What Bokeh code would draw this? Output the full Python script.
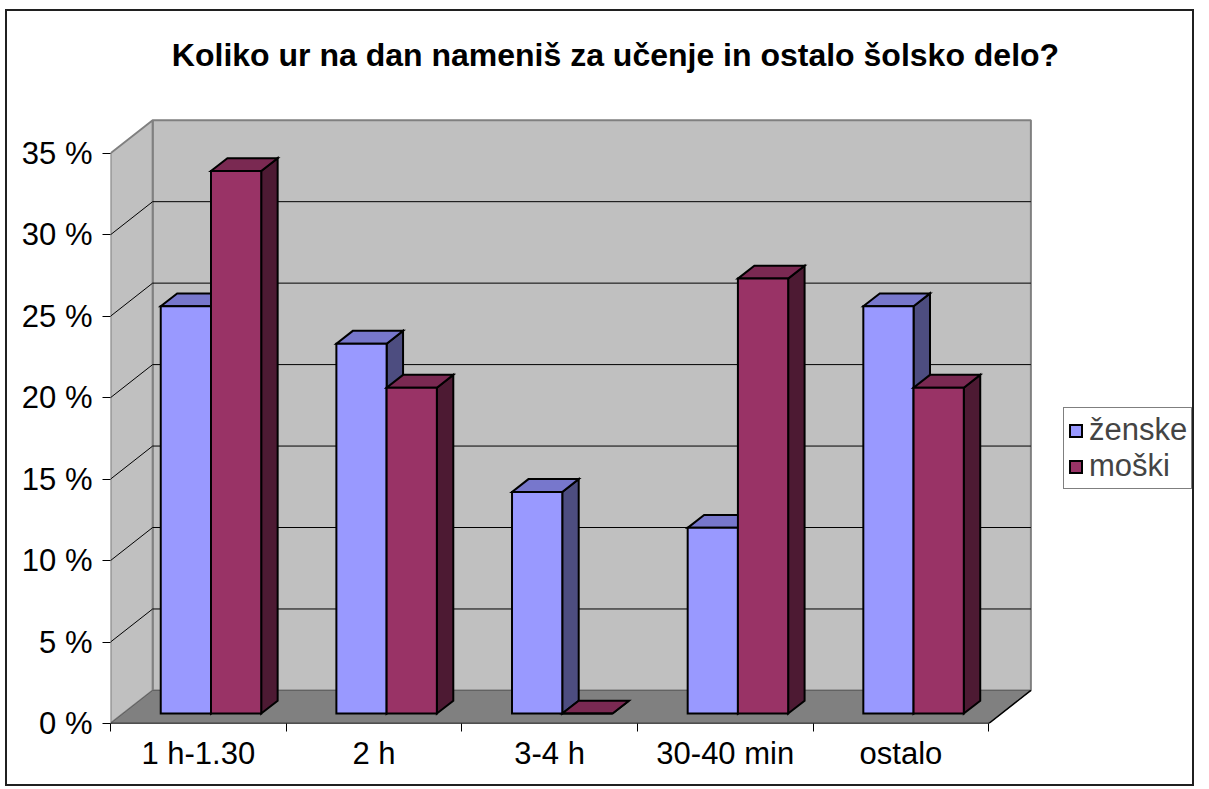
from bokeh.plotting import figure
from bokeh.models import Range1d, FixedTicker, Legend, LegendItem, Label
from bokeh.embed import file_html
from bokeh.resources import INLINE

# ---- data ----
categories = ["1 h-1.30", "2 h", "3-4 h", "30-40 min", "ostalo"]
zenske = [25.0, 22.7, 13.6, 11.4, 25.0]
moski = [33.3, 20.0, 0.0, 26.7, 20.0]
series_names = ["ženske", "moški"]
y_ticks = [0, 5, 10, 15, 20, 25, 30, 35]
title_text = "Koliko ur na dan nameniš za učenje in ostalo šolsko delo?"

# ---- style / projection constants ----
DX = 0.24      # depth offset in category units
DY = 2.03      # depth offset in % units
D0, D1 = 0.30, 0.69
BAR_OFF, BAR_W = 0.214, 0.286
FONT = "Liberation Sans"
W, H = 1189, 777
ML, MB = 103, 65
PX_X, PX_Y = 175.0, 16.2
n = len(categories)
ymax = y_ticks[-1]
frame_w = W - 4 - ML
frame_h = H - 4 - MB

def P(x, y, d):
    return x + d * DX, y + d * DY

def poly(pts):
    xs, ys = [], []
    for (x, y, d) in pts:
        px, py = P(x, y, d)
        xs.append(px)
        ys.append(py)
    return xs, ys

p = figure(width=W, height=H,
           x_range=Range1d(0, frame_w / PX_X), y_range=Range1d(0, frame_h / PX_Y),
           output_backend="svg", toolbar_location=None,
           min_border_left=ML, min_border_right=0,
           min_border_top=0, min_border_bottom=MB)
p.styles = {"border": "2px solid #202020", "transform": "translate(5px, 9px)"}
p.outline_line_color = None
p.xgrid.visible = False
p.ygrid.visible = False

# walls
bx, by = poly([(0, 0, 1), (n, 0, 1), (n, ymax, 1), (0, ymax, 1)])
lx, ly = poly([(0, 0, 0), (0, 0, 1), (0, ymax, 1), (0, ymax, 0)])
p.patches(xs=[bx, lx], ys=[by, ly], fill_color="#c0c0c0",
          line_color="#808080", line_width=2)
fx, fy = poly([(0, 0, 0), (n, 0, 0), (n, 0, 1), (0, 0, 1)])
p.patch(fx, fy, fill_color="#808080", line_color="#606060", line_width=1)
# floor front + right edges
e1x, e1y = poly([(0, 0, 0), (n, 0, 0)])
e2x, e2y = poly([(n, 0, 0), (n, 0, 1)])
p.multi_line(xs=[e1x, e2x], ys=[e1y, e2y], line_color="black", line_width=1.5)

# gridlines
gxs, gys = [], []
for v in y_ticks[1:-1]:
    x1, y1 = poly([(0, v, 1), (n, v, 1)])
    x2, y2 = poly([(0, v, 0), (0, v, 1)])
    gxs += [x1, x2]
    gys += [y1, y2]
p.multi_line(xs=gxs, ys=gys, line_color="black", line_width=1)

# bars
colors = [("#9999ff", "#7777cc", "#4d4d80"), ("#993366", "#7a2952", "#4d1a33")]
front_renderers = []
for k, vals in enumerate([zenske, moski]):
    fr, tp, sd = {"xs": [], "ys": []}, {"xs": [], "ys": []}, {"xs": [], "ys": []}
    for i, v in enumerate(vals):
        a = i + BAR_OFF + k * BAR_W
        b = a + BAR_W
        x, y = poly([(a, 0, D0), (b, 0, D0), (b, v, D0), (a, v, D0)])
        fr["xs"].append(x); fr["ys"].append(y)
        x, y = poly([(a, v, D0), (b, v, D0), (b, v, D1), (a, v, D1)])
        tp["xs"].append(x); tp["ys"].append(y)
        x, y = poly([(b, 0, D0), (b, 0, D1), (b, v, D1), (b, v, D0)])
        sd["xs"].append(x); sd["ys"].append(y)
    cf, ct, cs = colors[k]
    p.patches(xs=sd["xs"], ys=sd["ys"], fill_color=cs, line_color="black", line_width=2, line_join="miter")
    p.patches(xs=tp["xs"], ys=tp["ys"], fill_color=ct, line_color="black", line_width=2, line_join="miter")
    r = p.patches(xs=fr["xs"], ys=fr["ys"], fill_color=cf, line_color="black", line_width=2, line_join="miter")
    front_renderers.append(r)

# y axis
p.yaxis.ticker = FixedTicker(ticks=y_ticks)
p.yaxis.major_label_overrides = {t: f"{t} %" for t in y_ticks}
p.yaxis.axis_line_color = None
p.yaxis.major_tick_out = 8
p.yaxis.major_tick_in = 0
p.yaxis.major_tick_line_color = "black"
p.yaxis.minor_tick_line_color = None
p.yaxis.major_label_text_font = FONT
p.yaxis.major_label_text_font_size = "31px"
p.yaxis.major_label_text_color = "black"
p.yaxis.major_label_standoff = 10

# x axis
centers = [i + 0.5 for i in range(n)]
p.xaxis.ticker = FixedTicker(ticks=centers, minor_ticks=list(range(n + 1)))
p.xaxis.major_label_overrides = {c: lab for c, lab in zip(centers, categories)}
p.xaxis.axis_line_color = None
p.xaxis.major_tick_line_color = None
p.xaxis.major_tick_out = 8
p.xaxis.major_tick_in = 0
p.xaxis.minor_tick_line_color = "black"
p.xaxis.minor_tick_out = 8
p.xaxis.minor_tick_in = 0
p.xaxis.major_label_text_font = FONT
p.xaxis.major_label_text_font_size = "31px"
p.xaxis.major_label_text_color = "black"
p.xaxis.major_label_standoff = 4

# legend
legend = Legend(items=[LegendItem(label=series_names[0], renderers=[front_renderers[0]]),
                       LegendItem(label=series_names[1], renderers=[front_renderers[1]])],
                location=(953, 234), glyph_width=15, glyph_height=15,
                label_text_font=FONT, label_text_font_size="31px",
                label_standoff=6, padding=4, spacing=0, margin=0,
                border_line_color="black", border_line_width=1,
                background_fill_color="white", background_fill_alpha=1)
p.add_layout(legend, "center")

# title
p.add_layout(Label(x=505, y=frame_h - 57, x_units="screen", y_units="screen",
                   text=title_text, text_font=FONT, text_font_size="32px",
                   text_font_style="bold", text_align="center", text_color="black"))

open("out.html", "w").write(file_html(p, INLINE))
